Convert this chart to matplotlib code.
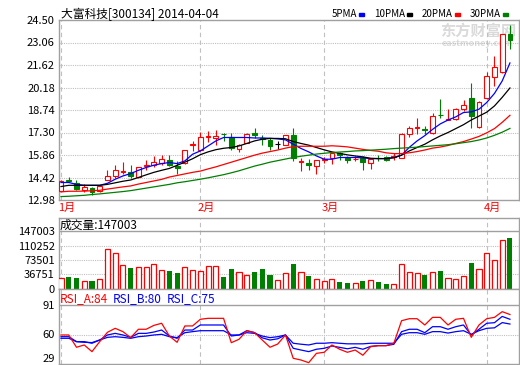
import matplotlib
matplotlib.use('Agg')
import matplotlib.pyplot as plt
from matplotlib.patches import Rectangle

plt.rcParams['font.family'] = ['Noto Sans CJK SC', 'DejaVu Sans']
plt.rcParams['font.size'] = 8

RED = '#ff0000'
GREEN = '#008000'
BLUE = '#0000ff'
GRID = '#c0c0c0'
FRAME = '#a0a0a0'

# ---- data ----
title = '大富科技[300134] 2014-04-04'
month_labels = ['1月', '2月', '3月', '4月']
month_idx = [0, 18, 34, 55]

opens = [13.57, 14.24, 14.07, 13.64, 13.75, 13.53, 14.28, 14.49, 14.78, 14.80,
         14.43, 15.15, 15.20, 15.35, 15.57, 15.18, 15.35, 16.50, 16.15, 17.00,
         16.94, 17.23, 17.03, 16.25, 16.64, 17.28, 16.95, 16.81, 16.57, 16.53,
         17.11, 15.40, 15.35, 15.14, 15.55, 15.68, 16.00, 15.68, 15.60, 15.68,
         15.35, 15.70, 15.72, 15.76, 15.68, 17.22, 17.58, 17.52, 17.26, 18.45,
         18.13, 18.15, 18.79, 19.54, 17.66, 19.54, 20.83, 21.15, 23.60]
closes = [14.22, 14.20, 13.70, 13.83, 13.49, 13.85, 14.49, 14.92, 14.82, 14.50,
          15.10, 15.20, 15.42, 15.61, 15.25, 15.03, 16.15, 16.55, 17.03, 17.08,
          17.06, 17.20, 16.32, 16.49, 17.22, 17.13, 16.90, 16.42, 16.57, 17.11,
          15.68, 15.45, 15.20, 15.52, 15.60, 16.00, 15.85, 15.52, 15.63, 15.42,
          15.61, 15.66, 15.57, 15.80, 17.22, 17.61, 17.64, 17.48, 18.37, 18.41,
          18.17, 18.79, 19.05, 18.37, 19.26, 20.93, 21.51, 23.60, 23.24]
highs = [14.25, 14.43, 14.28, 14.02, 13.81, 13.90, 14.92, 15.25, 15.40, 15.25,
         15.12, 15.57, 15.78, 15.89, 15.89, 15.46, 16.18, 16.78, 17.35, 17.39,
         17.48, 17.30, 17.26, 16.55, 17.25, 17.60, 17.13, 16.92, 16.75, 17.15,
         17.56, 15.68, 15.61, 15.55, 15.72, 16.02, 16.04, 15.78, 15.78, 15.78,
         15.63, 15.85, 15.80, 16.00, 17.25, 17.72, 18.26, 17.72, 18.52, 19.44,
         18.79, 18.90, 19.37, 20.46, 19.30, 21.19, 22.21, 23.62, 24.18]
lows = [13.55, 14.11, 13.65, 13.50, 13.32, 13.50, 14.25, 14.39, 14.67, 14.40,
        14.40, 14.92, 15.10, 15.25, 15.14, 14.65, 15.30, 16.10, 16.12, 16.70,
        16.49, 16.74, 16.17, 16.06, 16.60, 16.92, 16.53, 16.17, 16.25, 16.50,
        15.46, 14.86, 14.92, 14.65, 15.35, 15.31, 15.57, 15.35, 15.45, 14.92,
        14.97, 15.50, 15.50, 15.57, 15.65, 17.03, 17.19, 17.19, 17.22, 18.20,
        18.10, 18.10, 18.69, 17.61, 17.60, 19.44, 20.29, 21.10, 22.64]

ma5 = [14.10, 14.10, 13.98, 13.92, 13.92, 13.92, 14.05, 14.31, 14.52, 14.67,
       14.88, 15.06, 15.21, 15.31, 15.38, 15.31, 15.48, 15.91, 16.12, 16.44,
       16.76, 16.98, 16.98, 16.98, 16.98, 16.95, 16.95, 16.93, 16.89, 16.83,
       16.55, 16.28, 16.06, 15.80, 15.59, 15.59, 15.70, 15.70, 15.70, 15.68,
       15.63, 15.63, 15.63, 15.70, 15.85, 16.35, 16.76, 17.10, 17.50, 17.85,
       18.10, 18.30, 18.58, 18.62, 18.79, 19.22, 19.80, 20.60, 21.75]
ma10 = [13.84, 13.92, 13.92, 13.92, 13.92, 13.92, 13.98, 14.08, 14.18, 14.26,
        14.42, 14.59, 14.75, 14.88, 15.00, 15.20, 15.40, 15.62, 15.88, 16.06,
        16.20, 16.29, 16.34, 16.44, 16.60, 16.76, 16.87, 16.92, 16.92, 16.90,
        16.72, 16.60, 16.49, 16.34, 16.19, 16.06, 15.96, 15.87, 15.80, 15.74,
        15.65, 15.63, 15.63, 15.68, 15.85, 16.12, 16.34, 16.55, 16.83, 17.08,
        17.30, 17.55, 17.80, 18.10, 18.35, 18.60, 19.00, 19.55, 20.15]
ma20 = [13.50, 13.54, 13.54, 13.55, 13.57, 13.60, 13.68, 13.75, 13.82, 13.88,
        14.00, 14.10, 14.20, 14.30, 14.45, 14.55, 14.65, 14.75, 14.83, 14.97,
        15.10, 15.25, 15.40, 15.55, 15.70, 15.85, 15.98, 16.08, 16.18, 16.30,
        16.40, 16.42, 16.42, 16.42, 16.42, 16.45, 16.42, 16.38, 16.30, 16.22,
        16.15, 16.10, 16.00, 15.95, 15.95, 16.00, 16.08, 16.18, 16.30, 16.37,
        16.47, 16.60, 16.72, 16.88, 17.05, 17.28, 17.55, 17.95, 18.40]
ma30 = [13.20, 13.22, 13.25, 13.28, 13.33, 13.37, 13.42, 13.47, 13.52, 13.58,
        13.66, 13.74, 13.82, 13.90, 13.98, 14.08, 14.15, 14.23, 14.31, 14.40,
        14.50, 14.60, 14.72, 14.85, 15.00, 15.15, 15.27, 15.40, 15.50, 15.60,
        15.70, 15.78, 15.85, 15.92, 15.97, 16.02, 16.05, 16.08, 16.12, 16.14,
        16.17, 16.20, 16.23, 16.27, 16.30, 16.33, 16.36, 16.40, 16.44, 16.48,
        16.52, 16.58, 16.65, 16.72, 16.82, 16.95, 17.12, 17.32, 17.56]

volume = [26900, 30240, 27720, 20160, 20160, 24360, 102480, 90720, 59640, 52920,
          55440, 55440, 63000, 47040, 45360, 41160, 55440, 47040, 45360, 57120,
          57120, 30240, 50400, 42840, 35280, 43680, 50400, 35280, 22680, 39480,
          63000, 42840, 32760, 24360, 20160, 24360, 17640, 15120, 14280, 20160,
          21840, 17640, 12600, 11760, 63000, 42840, 40320, 35280, 42840, 45360,
          26880, 24360, 31920, 65520, 49560, 90720, 74760, 125160, 128520]

rsi_a = [59.5, 59.5, 46.6, 49.0, 42.0, 52.5, 62.3, 66.5, 63.0, 56.7,
         65.5, 65.5, 69.6, 71.8, 58.4, 51.8, 69.0, 69.0, 76.0, 77.0,
         77.0, 77.0, 51.4, 55.0, 64.0, 62.0, 54.2, 46.6, 50.0, 59.5,
         35.0, 33.2, 30.4, 40.2, 41.3, 49.0, 44.5, 41.3, 43.7, 38.2,
         47.2, 48.3, 48.3, 50.8, 74.5, 76.6, 76.6, 70.0, 78.0, 78.0,
         70.0, 76.0, 77.0, 57.0, 70.0, 76.6, 78.0, 84.0, 81.0]
rsi_b = [57.7, 57.7, 52.5, 52.5, 50.8, 54.2, 59.5, 61.2, 59.5, 57.0,
         61.2, 61.2, 62.6, 64.7, 58.4, 56.0, 64.7, 64.7, 70.0, 70.0,
         70.0, 70.0, 58.4, 59.5, 64.0, 62.0, 56.5, 54.2, 55.5, 59.5,
         45.5, 43.7, 42.0, 44.5, 45.5, 47.9, 46.5, 45.0, 46.5, 44.5,
         47.5, 48.3, 48.3, 49.7, 63.0, 65.5, 65.5, 61.9, 68.2, 68.2,
         65.5, 68.2, 70.0, 59.5, 65.5, 71.8, 72.4, 79.0, 76.0]
rsi_c = [56.0, 56.0, 52.5, 51.8, 51.5, 54.2, 57.0, 57.7, 57.0, 56.0,
         57.7, 58.4, 59.5, 60.2, 57.7, 56.7, 61.9, 63.0, 64.0, 64.0,
         64.0, 64.0, 59.5, 59.5, 61.9, 61.2, 58.4, 56.7, 57.7, 59.5,
         50.8, 49.8, 49.0, 50.8, 50.8, 51.4, 50.8, 50.2, 50.2, 50.2,
         50.8, 50.8, 50.8, 50.8, 60.2, 61.9, 61.9, 60.2, 63.0, 63.0,
         61.5, 63.0, 64.0, 60.2, 64.0, 66.5, 67.0, 72.5, 71.0]

price_ticks = [12.98, 14.42, 15.86, 17.30, 18.74, 20.18, 21.62, 23.06, 24.50]
vol_ticks = [0, 36751, 73501, 110252, 147003]
rsi_ticks = [29, 60, 91]

ma_names = ['5PMA', '10PMA', '20PMA', '30PMA']
ma_colors = [BLUE, 'black', RED, GREEN]
vol_header = '成交量:147003'
rsi_header = ['RSI_A:84', 'RSI_B:80', 'RSI_C:75']
rsi_colors = [RED, BLUE, BLUE]

# ---- layout (pixels of a 520x365 canvas) ----
W, H = 520, 365
fig = plt.figure(figsize=(W / 100, H / 100), dpi=100)
fig.patch.set_facecolor('white')


def fx(x):
    return x / W


def fy(y):
    return 1 - y / H


def px_axes(left, top, right, bottom):
    return fig.add_axes([fx(left), fy(bottom), (right - left) / W, (bottom - top) / H])


n = len(closes)
xs = list(range(n))
XLIM = (-0.26, 59.17)

ax_p = px_axes(59, 20, 519, 200)
ax_v = px_axes(59, 218, 519, 289)
ax_r = px_axes(59, 289, 519, 364)

for ax in (ax_p, ax_v, ax_r):
    ax.set_xlim(*XLIM)
    ax.set_xticks([])
    for s in ax.spines.values():
        s.set_color(FRAME)
        s.set_linewidth(1)
    ax.tick_params(axis='y', length=0, pad=3, labelsize=8)
    for m in month_idx:
        ax.axvline(m, color=GRID, lw=0.8, ls=(0, (4, 3)), zorder=0.6)

# ---- price panel ----
ax_p.set_ylim(price_ticks[0], price_ticks[-1])
ax_p.set_yticks(price_ticks)
ax_p.set_yticklabels(['%.2f' % t for t in price_ticks])
for t in price_ticks[1:-1]:
    ax_p.axhline(t, color=GRID, lw=0.8, ls=(0, (1, 1)), zorder=0.6)

bw = 0.62
for i in xs:
    o, c, h, l = opens[i], closes[i], highs[i], lows[i]
    if c > o:
        col, face = RED, 'white'
    elif c < o:
        col, face = GREEN, GREEN
    else:
        col, face = 'black', 'black'
    top, bot = max(o, c), min(o, c)
    ax_p.vlines(i, top, h, color=col, lw=0.8, zorder=3)
    ax_p.vlines(i, l, bot, color=col, lw=0.8, zorder=3)
    if c == o:
        ax_p.hlines(o, i - bw / 2, i + bw / 2, color=col, lw=0.8, zorder=3)
    else:
        ax_p.add_patch(Rectangle((i - bw / 2, bot), bw, top - bot, facecolor=face,
                                 edgecolor=col, lw=0.8, zorder=3))

for vals, col in zip([ma5, ma10, ma20, ma30], ma_colors):
    ax_p.plot(xs, vals, color=col, lw=0.9, zorder=4)

# watermark
ax_p.text(fx(440), fy(31), '东方财富网', transform=fig.transFigure, fontsize=11,
          fontweight='bold', color='#dadada', va='center', ha='left', zorder=0.5)
ax_p.text(fx(442), fy(43), 'eastmoney.com', transform=fig.transFigure, fontsize=6.5,
          fontweight='bold', color='#dadada', va='center', ha='left', zorder=0.5)

for lbl, m in zip(month_labels, month_idx):
    ax_p.annotate(lbl, xy=(m, 0), xycoords=('data', 'axes fraction'),
                  xytext=(-3, -8), textcoords='offset pixels',
                  ha='left', va='center', color=RED, fontsize=8)

# ---- volume panel ----
vmax = vol_ticks[-1]
ax_v.set_ylim(0, vmax * (289 - 218) / (289 - 231))
ax_v.set_yticks(vol_ticks)
ax_v.set_yticklabels([str(t) for t in vol_ticks])
ax_v.axhline(vmax, color=FRAME, lw=1, zorder=1)
for t in vol_ticks[1:-1]:
    ax_v.axhline(t, color=GRID, lw=0.8, ls=(0, (1, 1)), zorder=0.6)
up = [c >= o for o, c in zip(opens, closes)]
ax_v.bar([i for i in xs if up[i]], [volume[i] for i in xs if up[i]], width=0.66,
         facecolor='white', edgecolor=RED, lw=0.9, zorder=3)
ax_v.bar([i for i in xs if not up[i]], [volume[i] for i in xs if not up[i]], width=0.66,
         color=GREEN, lw=0, zorder=3)

# ---- RSI panel ----
ax_r.set_ylim(rsi_ticks[0], rsi_ticks[-1] + (305 - 289) * (rsi_ticks[-1] - rsi_ticks[0]) / (364 - 305))
ax_r.set_yticks(rsi_ticks)
ax_r.set_yticklabels([str(t) for t in rsi_ticks])
ax_r.get_yticklabels()[0].set_verticalalignment('bottom')
ax_r.axhline(rsi_ticks[-1], color=FRAME, lw=1, zorder=1)
ax_r.axhline(rsi_ticks[1], color=GRID, lw=0.8, ls=(0, (1, 1)), zorder=0.6)
ax_r.plot(xs, rsi_c, color=BLUE, lw=0.9, zorder=3)
ax_r.plot(xs, rsi_b, color=BLUE, lw=0.9, zorder=3)
ax_r.plot(xs, rsi_a, color=RED, lw=0.9, zorder=4)

# ---- header texts ----
fig.text(fx(61), fy(14), title, fontsize=8.5, va='center', ha='left')
leg_text_x = [332, 374, 422, 470]
leg_mark_x = [359, 407, 455, 503]
for name, col, tx, mx in zip(ma_names, ma_colors, leg_text_x, leg_mark_x):
    fig.text(fx(tx), fy(14), name, fontsize=7, va='center', ha='left')
    fig.add_artist(Rectangle((fx(mx), fy(16)), 5 / W, 3 / H, color=col,
                             transform=fig.transFigure))

fig.text(fx(60), fy(225), vol_header, fontsize=8.5, va='center', ha='left')
for txt, col, x0 in zip(rsi_header, rsi_colors, [60, 113, 167]):
    fig.text(fx(x0), fy(299), txt, fontsize=8.5, va='center', ha='left', color=col)

fig.savefig('out.png', dpi=100, facecolor='white')
